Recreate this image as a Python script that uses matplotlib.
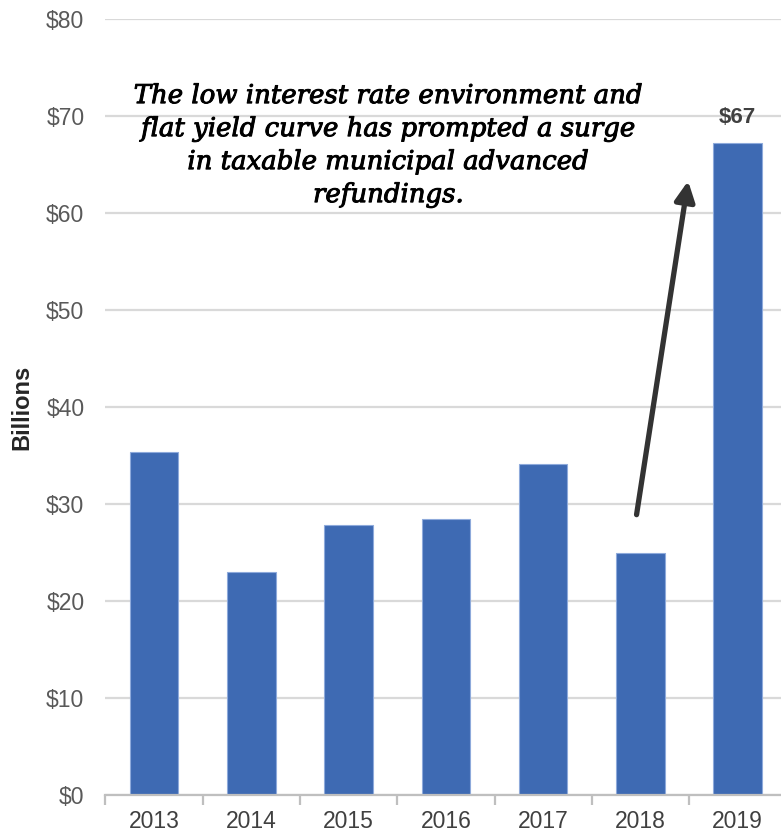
import matplotlib
matplotlib.use("Agg")
import matplotlib.pyplot as plt
import matplotlib.patheffects as pe
from matplotlib.ticker import FixedLocator, NullFormatter

years = ["2013", "2014", "2015", "2016", "2017", "2018", "2019"]
issuance = [35.4, 23.0, 27.8, 28.5, 34.1, 25.0, 67.2]
yticks = [0, 10, 20, 30, 40, 50, 60, 70, 80]
ytick_labels = ["$0", "$10", "$20", "$30", "$40", "$50", "$60", "$70", "$80"]
callout_value = 67
callout_label = "$67"
note = ("The low interest rate environment and\n"
        "flat yield curve has prompted a surge\n"
        "in taxable municipal advanced\n"
        "refundings.")

W, H = 781, 836
fig = plt.figure(figsize=(W / 100, H / 100), dpi=100)
ax = fig.add_axes([105.3 / W, 41 / H, (W - 105.3) / W, (795 - 19) / H])

x = list(range(len(years)))
ax.bar(x, issuance, width=0.5, color="#3E6AB3", edgecolor="#8EAADB",
       linewidth=0.8, zorder=3)

ax.set_ylim(0, 80)
ax.set_xlim(-0.5, -0.5 + (W - 105.3) / 97.3)
ax.set_yticks(yticks)
ax.set_yticklabels(ytick_labels, fontsize=16.5, color="#595959",
                   family="Liberation Sans")
ax.tick_params(axis="y", length=0, pad=15)
ax.grid(axis="y", color="#D9D9D9", linewidth=1.6, zorder=0)

# category labels centred, ticks at the boundaries
ax.xaxis.set_major_locator(FixedLocator(x))
ax.set_xticklabels(years, fontsize=16.5, color="#404040", family="Liberation Sans")
ax.tick_params(axis="x", which="major", length=0, pad=11)
ax.xaxis.set_minor_locator(FixedLocator([i - 0.5 for i in range(len(years) + 1)]))
ax.xaxis.set_minor_formatter(NullFormatter())
ax.tick_params(axis="x", which="minor", length=7, width=1.6, color="#BFBFBF")

for side in ("top", "right", "left"):
    ax.spines[side].set_visible(False)
ax.spines["bottom"].set_color("#BFBFBF")
ax.spines["bottom"].set_linewidth(1.6)
ax.spines["bottom"].set_zorder(4)

ax.set_ylabel("Billions", fontsize=17, fontweight="bold", color="#262626",
              family="Liberation Sans", labelpad=9)

ax.annotate(callout_label, xy=(6, callout_value), xytext=(0, 12),
            textcoords="offset points", ha="center", va="bottom",
            fontsize=16, fontweight="bold", color="#404040",
            family="Liberation Sans")

ax.text(2.41, 67.0, note, ha="center", va="center", fontsize=18.7,
        style="italic", color="black", family="DejaVu Serif",
        linespacing=1.4, zorder=5,
        path_effects=[pe.withStroke(linewidth=0.7, foreground="black")])

ax.annotate("", xy=(5.49, 63.3), xytext=(4.96, 28.9),
            arrowprops=dict(arrowstyle="-|>", color="#333333", lw=3.8,
                            mutation_scale=30, capstyle="round",
                            shrinkA=0, shrinkB=0),
            zorder=6)

fig.savefig("out.png", dpi=100)
